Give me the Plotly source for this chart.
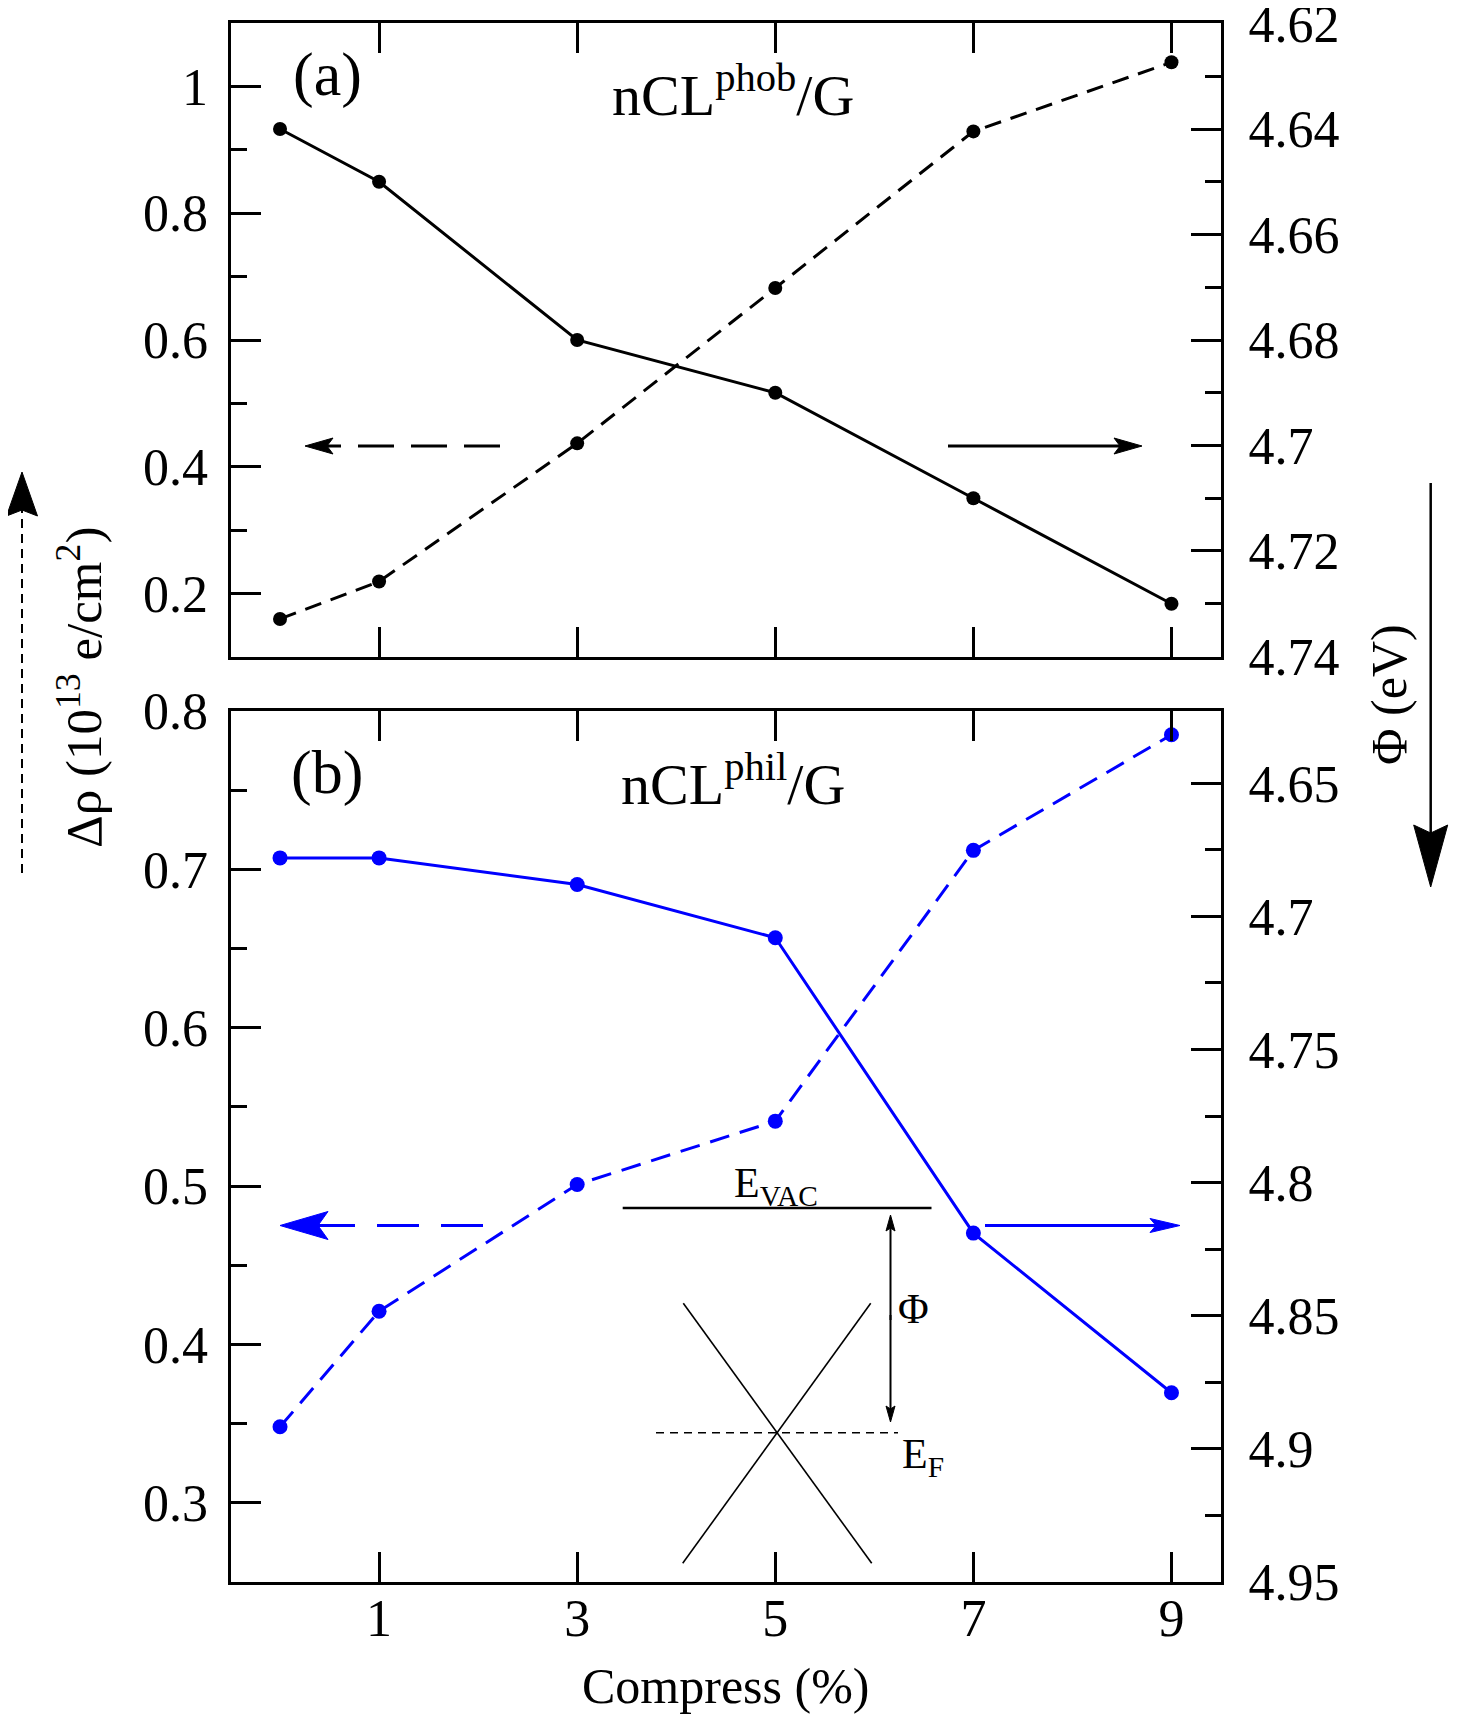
import plotly.graph_objects as go

# ---------------- data ----------------
compress = [0, 1, 3, 5, 7, 9]
phob_drho = [0.160, 0.219, 0.437, 0.682, 0.929, 1.038]
phob_phi = [4.640, 4.650, 4.680, 4.690, 4.710, 4.730]
phil_drho = [0.348, 0.421, 0.501, 0.541, 0.712, 0.785]
phil_phi = [4.678, 4.678, 4.688, 4.708, 4.819, 4.879]

x_tickvals = [1, 3, 5, 7, 9]
x_ticktext = ["1", "3", "5", "7", "9"]
a_left_vals = [0.2, 0.4, 0.6, 0.8, 1.0]
a_left_text = ["0.2", "0.4", "0.6", "0.8", "1"]
a_left_minor = [0.1, 0.3, 0.5, 0.7, 0.9, 1.1]
a_right_vals = [4.62, 4.64, 4.66, 4.68, 4.70, 4.72, 4.74]
a_right_text = ["4.62", "4.64", "4.66", "4.68", "4.7", "4.72", "4.74"]
a_right_minor = [4.63, 4.65, 4.67, 4.69, 4.71, 4.73]
b_left_vals = [0.3, 0.4, 0.5, 0.6, 0.7, 0.8]
b_left_text = ["0.3", "0.4", "0.5", "0.6", "0.7", "0.8"]
b_left_minor = [0.35, 0.45, 0.55, 0.65, 0.75]
b_right_vals = [4.65, 4.70, 4.75, 4.80, 4.85, 4.90, 4.95]
b_right_text = ["4.65", "4.7", "4.75", "4.8", "4.85", "4.9", "4.95"]
b_right_minor = [4.675, 4.725, 4.775, 4.825, 4.875, 4.925]

FONT = "Liberation Serif"
BLUE = "#0000ff"
TICKSIZE = 52

# page has an 8px body margin; figure fills the rest of the 1465x1722 window
W, H, OFF = 1449, 1706, 8


def px(x, y):
    """window pixel -> paper fraction"""
    return (x - OFF) / W, 1 - (y - OFF) / H


fig = go.Figure()

# panel (a)
fig.add_trace(go.Scatter(x=compress, y=phob_drho, xaxis="x", yaxis="y", mode="lines+markers",
                         line=dict(color="black", width=3, dash="17px,10px"),
                         marker=dict(color="black", size=14), showlegend=False))
fig.add_trace(go.Scatter(x=compress, y=phob_phi, xaxis="x", yaxis="y2", mode="lines+markers",
                         line=dict(color="black", width=3),
                         marker=dict(color="black", size=14), showlegend=False))
# panel (b)
fig.add_trace(go.Scatter(x=compress, y=phil_drho, xaxis="x2", yaxis="y3", mode="lines+markers",
                         line=dict(color=BLUE, width=3, dash="20px,11px"),
                         marker=dict(color=BLUE, size=15), showlegend=False))
fig.add_trace(go.Scatter(x=compress, y=phil_phi, xaxis="x2", yaxis="y4", mode="lines+markers",
                         line=dict(color=BLUE, width=3),
                         marker=dict(color=BLUE, size=15), showlegend=False))

common_axis = dict(showline=True, linewidth=3, linecolor="black", showgrid=False, zeroline=False,
                   ticks="inside", ticklen=30, tickwidth=2.5, tickcolor="black", automargin=False,
                   ticklabeloverflow="allow",
                   tickfont=dict(family=FONT, size=TICKSIZE, color="black"))
minor_style = dict(ticks="inside", ticklen=16, tickwidth=2.5, tickcolor="black")

xl, _ = px(230.5, 0)
xr, _ = px(1221, 0)
_, ya_top = px(0, 23)
_, ya_bot = px(0, 657)
_, yb_top = px(0, 711)
_, yb_bot = px(0, 1582)
XDOM = [xl, xr]

fig.update_layout(
    width=W, height=H,
    margin=dict(l=0, r=0, t=0, b=0, autoexpand=False),
    paper_bgcolor="white", plot_bgcolor="white",
    font=dict(family=FONT, color="black"),
    xaxis=dict(domain=XDOM, anchor="y", range=[-0.5, 9.5], tickmode="array", tickvals=x_tickvals,
               ticktext=x_ticktext, showticklabels=False, mirror="ticks", **common_axis),
    yaxis=dict(domain=[ya_bot, ya_top], anchor="x", range=[0.1, 1.1], tickmode="array",
               tickvals=a_left_vals, ticktext=a_left_text, ticklabelstandoff=9,
               minor=dict(tickvals=a_left_minor, **minor_style), **common_axis),
    yaxis2=dict(overlaying="y", side="right", anchor="x", range=[4.7401, 4.6199], tickmode="array",
                tickvals=a_right_vals, ticktext=a_right_text, ticklabelstandoff=14,
                minor=dict(tickvals=a_right_minor, **minor_style), **common_axis),
    xaxis2=dict(domain=XDOM, anchor="y3", range=[-0.5, 9.5], tickmode="array", tickvals=x_tickvals,
                ticktext=x_ticktext, showticklabels=True, mirror="ticks", ticklabelstandoff=-11,
                **common_axis),
    yaxis3=dict(domain=[yb_bot, yb_top], anchor="x2", range=[0.25, 0.8], tickmode="array",
                tickvals=b_left_vals, ticktext=b_left_text, ticklabelstandoff=9,
                minor=dict(tickvals=b_left_minor, **minor_style), **common_axis),
    yaxis4=dict(overlaying="y3", side="right", anchor="x2", range=[4.9501, 4.6228], tickmode="array",
                tickvals=b_right_vals, ticktext=b_right_text, ticklabelstandoff=14,
                minor=dict(tickvals=b_right_minor, **minor_style), **common_axis),
)

shapes = []
ann = []


def line(x0, y0, x1, y1, color="black", width=3, dash=None):
    a0, b0 = px(x0, y0)
    a1, b1 = px(x1, y1)
    ln = dict(color=color, width=width)
    if dash:
        ln["dash"] = dash
    shapes.append(dict(type="line", xref="paper", yref="paper", x0=a0, y0=b0, x1=a1, y1=b1,
                       line=ln, layer="above"))


def arrow(tx, ty, fx, fy, L, Wd, notch, color="black", width=3, dash=None):
    """arrow from (fx,fy) to tip (tx,ty) in window px, with a stealth-like filled head"""
    dx, dy = tx - fx, ty - fy
    n = (dx * dx + dy * dy) ** 0.5
    ux, uy = dx / n, dy / n
    nx, ny = -uy, ux
    bx, by = tx - L * ux, ty - L * uy
    p1 = (bx + Wd / 2 * nx, by + Wd / 2 * ny)
    p2 = (tx - (L - notch) * ux, ty - (L - notch) * uy)
    p3 = (bx - Wd / 2 * nx, by - Wd / 2 * ny)
    line(fx, fy, p2[0] + ux * 1, p2[1] + uy * 1, color=color, width=width, dash=dash)
    pts = [px(tx, ty), px(*p1), px(*p2), px(*p3)]
    path = "M{},{} L{},{} L{},{} L{},{} Z".format(*[v for p in pts for v in p])
    shapes.append(dict(type="path", xref="paper", yref="paper", path=path,
                       fillcolor=color, line=dict(color=color, width=1), layer="above"))


def text(x, y, s, size, **kw):
    a, b = px(x, y)
    d = dict(x=a, y=b, xref="paper", yref="paper", text=s, showarrow=False,
             xanchor="center", yanchor="middle",
             font=dict(family=FONT, size=size, color="black"))
    d.update(kw)
    ann.append(d)


# ---- panel labels
text(327, 75, "(a)", 62)
text(733, 92, "nCL<sup>phob</sup>/G", 58)
text(327, 772, "(b)", 62)
text(733, 781, "nCL<sup>phil</sup>/G", 58)

# ---- direction arrows inside the panels
arrow(305, 446, 500, 446, 28, 16, 6, dash="36px,17px")
arrow(1142, 446, 948, 446, 28, 16, 6)
arrow(280, 1225.5, 483, 1225.5, 48, 28, 10, color=BLUE, dash="42px,22px")
arrow(1180, 1225.5, 985, 1225.5, 30, 14, 6, color=BLUE)

# ---- inset band diagram
line(622.7, 1208, 931.5, 1208, width=2.5)
text(776, 1186, "E<sub>VAC</sub>", 42)
arrow(890.5, 1215, 890.5, 1320, 16, 9, 3, width=2)
arrow(890.5, 1422, 890.5, 1315, 16, 9, 3, width=2)
text(913, 1309, "Φ", 42)
line(656, 1432.7, 898, 1432.7, width=1.6, dash="8px,6px")
text(900, 1457, "E<sub>F</sub>", 42, xanchor="left")
line(683.3, 1303.3, 871.7, 1563.3, width=1.6)
line(870.7, 1303.3, 682.7, 1563.3, width=1.6)

# ---- outer axis titles and arrows
text(80, 688, "Δρ (10<sup>13</sup> e/cm<sup>2</sup>)", 51, textangle=-90)
text(1389, 695, "Φ (eV)", 50, textangle=-90)
text(725, 1686, "Compress (%)", 50)
arrow(22, 472, 22, 873, 44, 31, 6, width=2, dash="9px,6px")
arrow(1430.7, 887, 1430.7, 483, 62, 34, 8, width=2.5)

fig.update_layout(shapes=shapes, annotations=ann)
fig.write_html("out.html")
